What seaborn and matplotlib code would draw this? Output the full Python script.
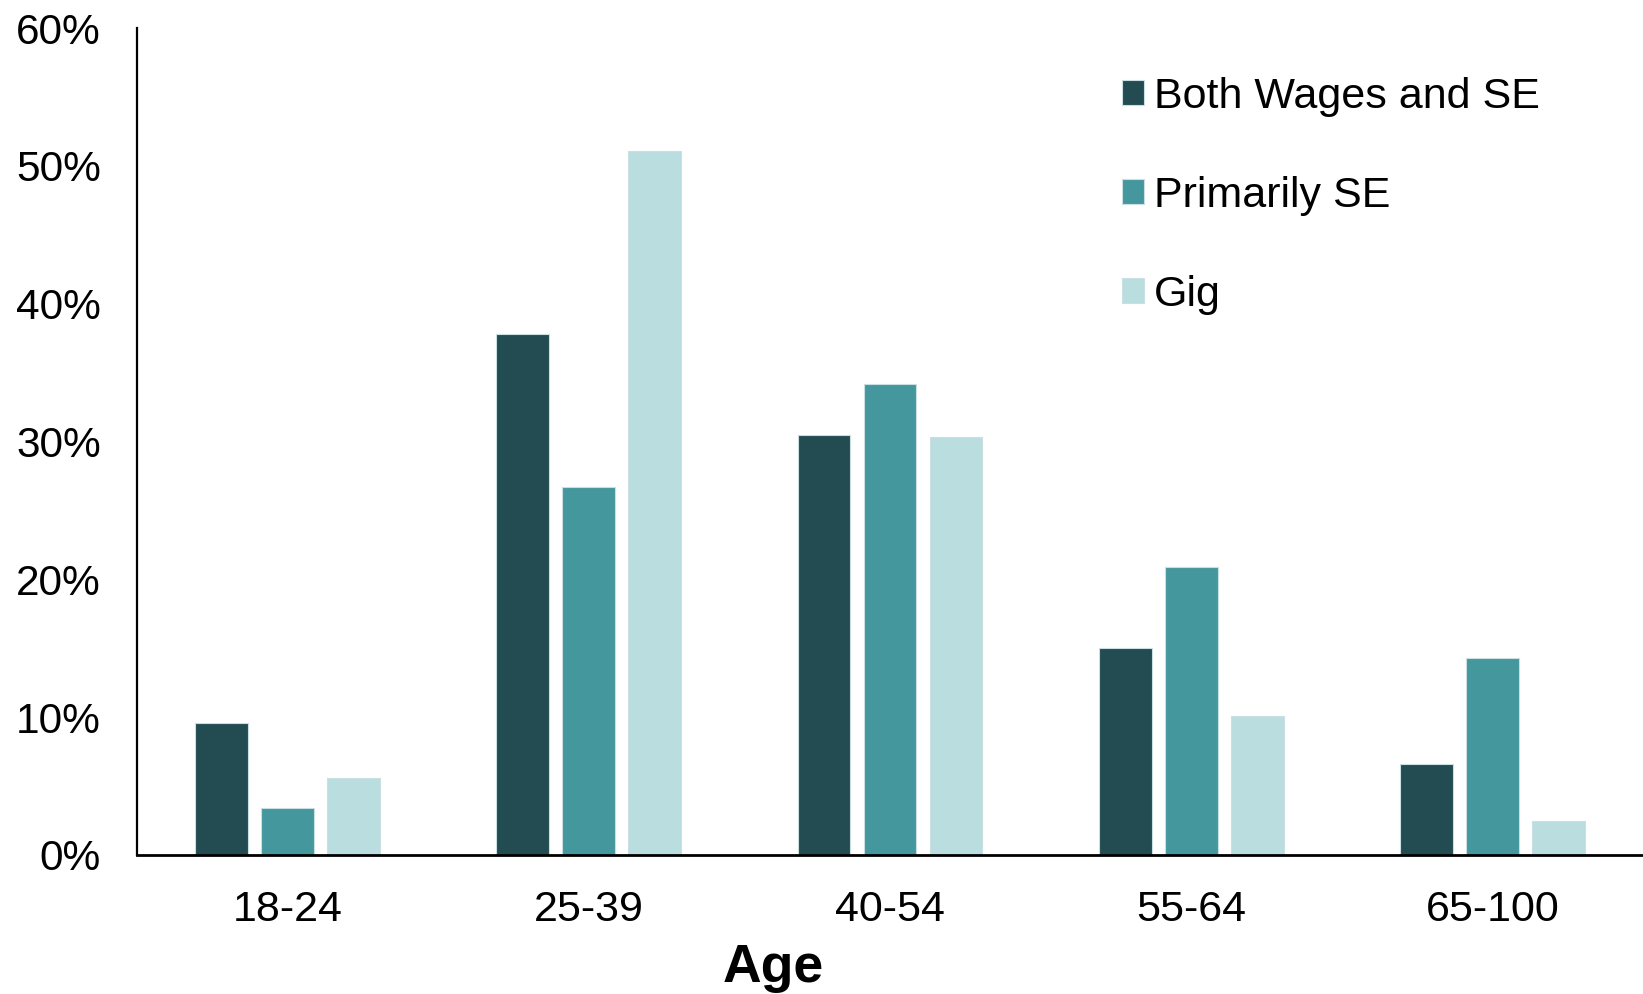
import matplotlib
matplotlib.use("Agg")
import matplotlib.pyplot as plt
from matplotlib.ticker import PercentFormatter
import pandas as pd
import seaborn as sns

# data (shares, 0-1)
ages = ["18-24", "25-39", "40-54", "55-64", "65-100"]
groups = ["Both Wages and SE", "Primarily SE", "Gig"]
both_wages_se = [0.096, 0.378, 0.305, 0.150, 0.066]
primarily_se = [0.034, 0.267, 0.342, 0.209, 0.143]
gig = [0.056, 0.511, 0.303, 0.101, 0.025]

colors = ["#224c51", "#45979e", "#badde0"]

df = pd.DataFrame({
    "age": ages * 3,
    "group": [g for g in groups for _ in ages],
    "share": both_wages_se + primarily_se + gig,
})

sns.set_style("white")
plt.rcParams["font.family"] = ["Liberation Sans", "DejaVu Sans"]
plt.rcParams["text.color"] = "black"
plt.rcParams["axes.labelcolor"] = "black"
plt.rcParams["xtick.color"] = "black"
plt.rcParams["ytick.color"] = "black"

fig = plt.figure(figsize=(16.43, 9.94), dpi=100)
ax = fig.add_axes([137 / 1643, 1 - 855 / 994, 1 - 137 / 1643, (855 - 28) / 994])

sns.barplot(data=df, x="age", y="share", hue="group", order=ages,
            hue_order=groups, palette=colors, saturation=1,
            width=0.657, gap=0.2, edgecolor="#c9dfe1", linewidth=0.8, ax=ax)

ax.set_xlim(-0.5, 4.5)
ax.set_ylim(0, 0.6)
ax.set_yticks([0, 0.1, 0.2, 0.3, 0.4, 0.5, 0.6])
ax.yaxis.set_major_formatter(PercentFormatter(1.0, decimals=0))
ax.tick_params(axis="y", length=0, pad=26, labelsize=30.5)
ax.tick_params(axis="x", length=0, pad=25, labelsize=31)
ax.set_ylabel("")
ax.set_xlabel("Age", fontsize=38.5, fontweight="bold", color="black")
ax.xaxis.set_label_coords((773 - 137) / 1506, -0.106)

sns.despine(ax=ax, top=True, right=True)
ax.spines["left"].set_linewidth(1.6)
ax.spines["bottom"].set_linewidth(2.0)
ax.spines["left"].set_color("black")
ax.spines["bottom"].set_color("black")

handles, labels = ax.get_legend_handles_labels()
ax.legend(handles=handles, labels=labels, loc="upper left",
          bbox_to_anchor=(1122 / 1643, 1 - 77 / 994),
          bbox_transform=fig.transFigure, frameon=False, fontsize=31,
          handlelength=0.5, handleheight=0.5, handletextpad=0.25,
          labelspacing=1.37, borderpad=0, borderaxespad=0)

fig.savefig("out.png", dpi=100)
